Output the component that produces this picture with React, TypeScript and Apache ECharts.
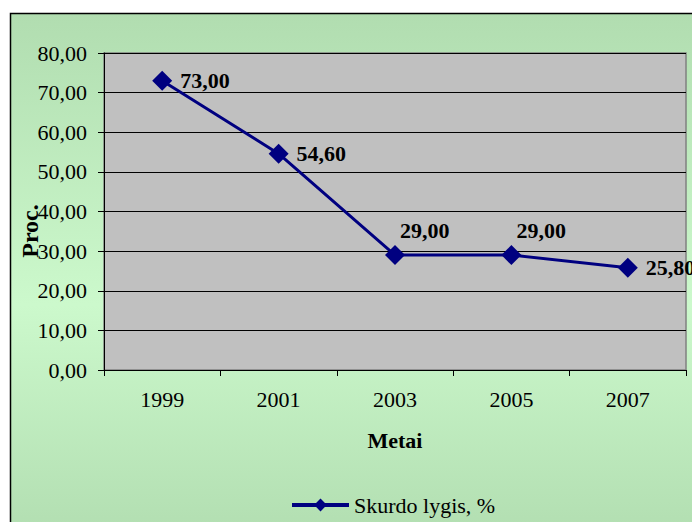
import React, { useEffect, useRef } from "react";
import * as echarts from "echarts";

const categories = ["1999", "2001", "2003", "2005", "2007"];
const values = [73.0, 54.6, 29.0, 29.0, 25.8];
const labelAbove = [false, false, true, true, false];
const seriesName = "Skurdo lygis, %";
const yTitle = "Proc.";
const xTitle = "Metai";

const fmt = (v: number) => v.toFixed(2).replace(".", ",");

export default function App() {
  const ref = useRef<HTMLDivElement>(null);
  useEffect(() => {
    if (!ref.current) return;
    const chart = echarts.init(ref.current, null, { renderer: "svg" });
    const font = "'Liberation Serif', 'Times New Roman', serif";
    chart.setOption({
      animation: false,
      backgroundColor: "#ffffff",
      graphic: {
        z: -100,
        elements: [
          {
            type: "rect",
            z: -100,
            shape: { x: 10.5, y: 13.5, width: 700, height: 530 },
            style: {
              fill: new echarts.graphic.LinearGradient(0, 0, 0, 1, [
                { offset: 0, color: "#b1ddb0" },
                { offset: 0.55, color: "#ccf9cc" },
                { offset: 1, color: "#b1ddb0" },
              ]),
              stroke: "#000",
              lineWidth: 1.5,
            },
          },
          {
            type: "text",
            x: 30,
            y: 231,
            rotation: Math.PI / 2,
            z: 100,
            style: {
              text: yTitle,
              font: `bold 24px ${font}`,
              fill: "#000",
              align: "center",
              verticalAlign: "middle",
            },
          },
        ],
      },
      grid: {
        left: 104,
        top: 53,
        right: 6,
        bottom: 152,
        show: true,
        backgroundColor: "#c0c0c0",
        borderColor: "#808080",
        borderWidth: 1.5,
      },
      legend: {
        data: [seriesName],
        left: 285,
        top: 489,
        itemWidth: 57,
        itemHeight: 16,
        itemGap: 5,
        lineStyle: { width: 4 },
        textStyle: { fontFamily: font, fontSize: 22, color: "#000" },
      },
      xAxis: {
        type: "category",
        data: categories,
        boundaryGap: true,
        name: xTitle,
        nameLocation: "middle",
        nameGap: 59,
        nameTextStyle: { fontFamily: font, fontSize: 22, fontWeight: "bold", color: "#000" },
        axisLine: { lineStyle: { color: "#000", width: 1 } },
        axisTick: { show: true, length: 6, lineStyle: { color: "#000" } },
        axisLabel: { fontFamily: font, fontSize: 22, color: "#000", margin: 18 },
        splitLine: { show: false },
      },
      yAxis: {
        type: "value",
        min: 0,
        max: 80,
        interval: 10,
        axisLine: { show: true, lineStyle: { color: "#000", width: 1 } },
        axisTick: { show: true, length: 6, lineStyle: { color: "#000" } },
        axisLabel: {
          fontFamily: font,
          fontSize: 22,
          color: "#000",
          margin: 17,
          formatter: (v: number) => fmt(v),
        },
        splitLine: { show: true, lineStyle: { color: "#000", width: 1 } },
      },
      series: [
        {
          name: seriesName,
          type: "line",
          data: values.map((v, i) => ({
            value: v,
            label: labelAbove[i]
              ? { position: "right", offset: [-13, -25] }
              : { position: "right" },
          })),
          symbol: "diamond",
          symbolSize: 20,
          itemStyle: { color: "#000080" },
          lineStyle: { color: "#000080", width: 3 },
          label: {
            show: true,
            position: "right",
            distance: 8,
            fontFamily: font,
            fontSize: 22,
            fontWeight: "bold",
            color: "#000",
            formatter: (p: any) => fmt(p.value),
          },
        },
      ],
    });
    return () => chart.dispose();
  }, []);
  return (
    <div
      ref={ref}
      style={{ position: "absolute", left: 0, top: 0, width: 692, height: 522 }}
    />
  );
}
